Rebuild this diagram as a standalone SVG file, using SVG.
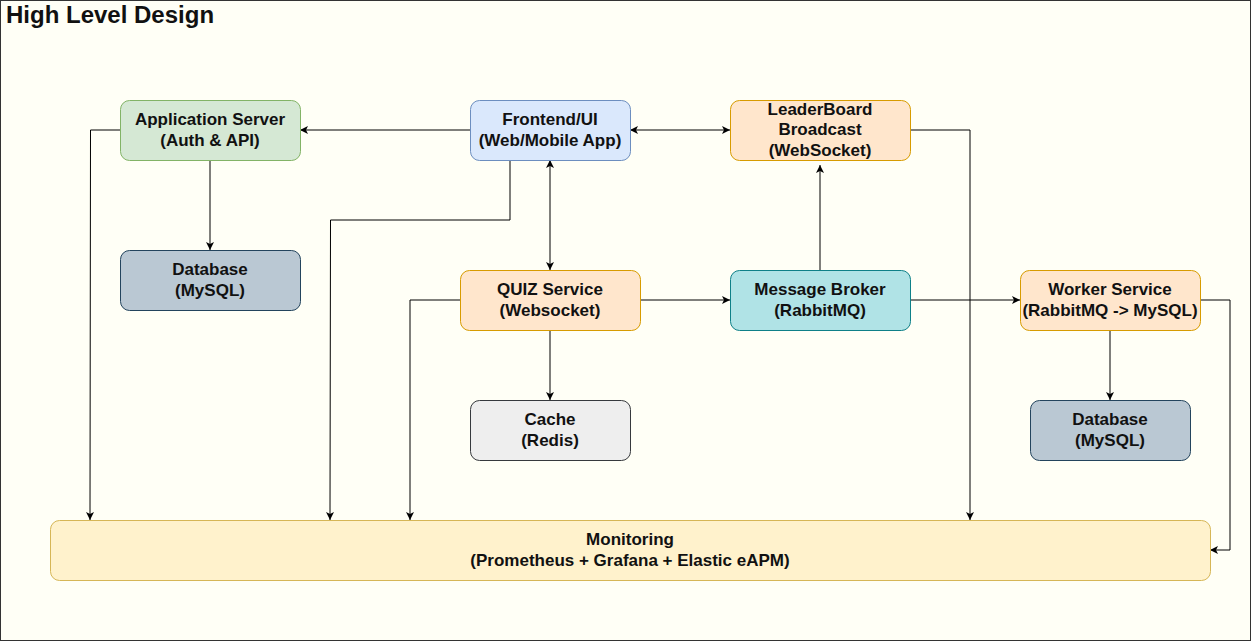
<svg xmlns="http://www.w3.org/2000/svg" width="1251" height="641" viewBox="0 0 1251 641">
<style>
.n{stroke-width:1}
.t{font-family:"Liberation Sans",Arial,sans-serif;font-weight:bold;font-size:17px;fill:#111;text-anchor:middle}
.c{fill:none;stroke:#000;stroke-width:1}
</style>
<defs>
<marker id="ae" viewBox="0 0 10 10" refX="10" refY="5" markerWidth="8" markerHeight="8" markerUnits="userSpaceOnUse" orient="auto"><path d="M0,0 L10,5 L0,10 L2.5,5 Z" fill="#000"/></marker>
<marker id="as" viewBox="0 0 10 10" refX="0" refY="5" markerWidth="8" markerHeight="8" markerUnits="userSpaceOnUse" orient="auto"><path d="M10,0 L0,5 L10,10 L7.5,5 Z" fill="#000"/></marker>
</defs>
<rect x="0.5" y="0.5" width="1250" height="640" fill="#fffff6" stroke="#333"/>
<text x="6" y="23" style="font-family:'Liberation Sans',Arial,sans-serif;font-weight:bold;font-size:24px;fill:#111">High Level Design</text>

<g id="connectors">
<path class="c" d="M470,130 H300" marker-end="url(#ae)"/>
<path class="c" d="M630,130 H730" marker-start="url(#as)" marker-end="url(#ae)"/>
<path class="c" d="M550,160 V270" marker-start="url(#as)" marker-end="url(#ae)"/>
<path class="c" d="M510,160 V220 H330.5 L330,520" marker-end="url(#ae)"/>
<path class="c" d="M210,160 V250" marker-end="url(#ae)"/>
<path class="c" d="M120,130 H90.5 L90,520" marker-end="url(#ae)"/>
<path class="c" d="M460,300 H410 V520" marker-end="url(#ae)"/>
<path class="c" d="M640,300 H730" marker-end="url(#ae)"/>
<path class="c" d="M550,330 V400" marker-end="url(#ae)"/>
<path class="c" d="M820,270 V165" marker-end="url(#ae)"/>
<path class="c" d="M910,300 H1020" marker-end="url(#ae)"/>
<path class="c" d="M910,130 H970 V520" marker-end="url(#ae)"/>
<path class="c" d="M1110,330 V400" marker-end="url(#ae)"/>
<path class="c" d="M1200,300 H1230 V550 H1210" marker-end="url(#ae)"/>
</g>

<g id="app-server"><rect class="n" x="120.5" y="100.5" width="180" height="60" rx="9" fill="#d5e8d4" stroke="#82b366"/>
<text class="t" x="210" y="125">Application Server</text><text class="t" x="210" y="146">(Auth &amp; API)</text></g>

<g id="frontend"><rect class="n" x="470.5" y="100.5" width="160" height="60" rx="9" fill="#dae8fc" stroke="#6c8ebf"/>
<text class="t" x="550" y="125">Frontend/UI</text><text class="t" x="550" y="146">(Web/Mobile App)</text></g>

<g id="leaderboard"><rect class="n" x="730.5" y="100.5" width="180" height="60" rx="9" fill="#ffe6cc" stroke="#d79b00"/>
<text class="t" x="820" y="115">LeaderBoard</text><text class="t" x="820" y="135">Broadcast</text><text class="t" x="820" y="156">(WebSocket)</text></g>

<g id="database-1"><rect class="n" x="120.5" y="250.5" width="180" height="60" rx="9" fill="#bac8d3" stroke="#23445d"/>
<text class="t" x="210" y="275">Database</text><text class="t" x="210" y="296">(MySQL)</text></g>

<g id="quiz-service"><rect class="n" x="460.5" y="270.5" width="180" height="60" rx="9" fill="#ffe6cc" stroke="#d79b00"/>
<text class="t" x="550" y="295">QUIZ Service</text><text class="t" x="550" y="316">(Websocket)</text></g>

<g id="message-broker"><rect class="n" x="730.5" y="270.5" width="180" height="60" rx="9" fill="#b0e3e6" stroke="#0e8088"/>
<text class="t" x="820" y="295">Message Broker</text><text class="t" x="820" y="316">(RabbitMQ)</text></g>

<g id="worker-service"><rect class="n" x="1020.5" y="270.5" width="180" height="60" rx="9" fill="#ffe6cc" stroke="#d79b00"/>
<text class="t" x="1110" y="295">Worker Service</text><text class="t" x="1110" y="316">(RabbitMQ -&gt; MySQL)</text></g>

<g id="cache"><rect class="n" x="470.5" y="400.5" width="160" height="60" rx="9" fill="#eeeeee" stroke="#36393d"/>
<text class="t" x="550" y="425">Cache</text><text class="t" x="550" y="446">(Redis)</text></g>

<g id="database-2"><rect class="n" x="1030.5" y="400.5" width="160" height="60" rx="9" fill="#bac8d3" stroke="#23445d"/>
<text class="t" x="1110" y="425">Database</text><text class="t" x="1110" y="446">(MySQL)</text></g>

<g id="monitoring"><rect class="n" x="50.5" y="520.5" width="1160" height="60" rx="9" fill="#fff2cc" stroke="#d6b656"/>
<text class="t" x="630" y="545">Monitoring</text><text class="t" x="630" y="566">(Prometheus + Grafana + Elastic eAPM)</text></g>
</svg>
